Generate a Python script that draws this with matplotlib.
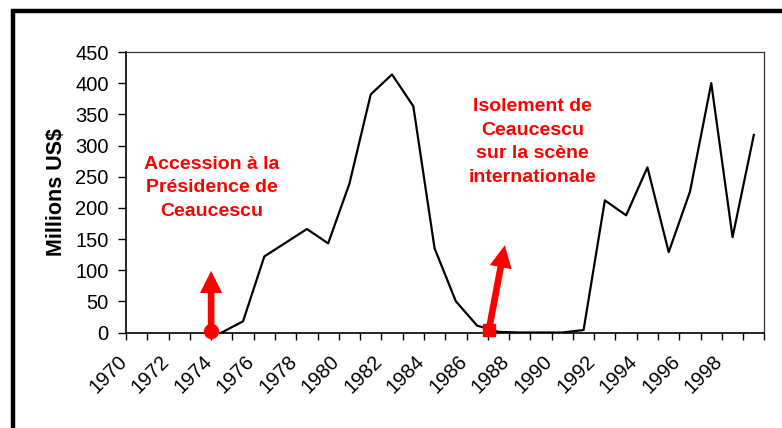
import numpy as np
import matplotlib.pyplot as plt
from matplotlib.patches import Rectangle
from matplotlib.transforms import ScaledTranslation

plt.rcParams['font.family'] = ['Liberation Sans', 'DejaVu Sans']

# Années et valeurs (millions US$)
annees = list(range(1970, 2000))
valeurs = [np.nan, np.nan, np.nan, np.nan, 0, 18, 122, 144, 166, 143,
           239, 382, 414, 363, 135, 50, 11, 1, 0, 0,
           0, 4, 212, 188, 265, 129, 226, 400, 153, 317]
etiquettes = [str(a) if (a - 1970) % 2 == 0 else '' for a in annees]

# Flèches d'annotation (position sur l'axe des catégories, valeur)
fleche1_debut = (4.0, 2)
fleche1_fin = (4.0, 99)
fleche2_debut = (17.05, 4)
fleche2_fin = (17.8, 140)
texte1 = "Accession à la\nPrésidence de\nCeaucescu"
texte2 = "Isolement de\nCeaucescu\nsur la scène\ninternationale"

fig = plt.figure(figsize=(7.82, 4.28), dpi=100)
ax = fig.add_axes([0.1611, 0.2231, 0.8165, 0.6554])

# cadre extérieur (coupé à droite et en bas)
fig.patches.append(Rectangle((12.5 / 782, -0.2), 1.2, 1 - 10.5 / 428 + 0.2,
                             transform=fig.transFigure, fill=False,
                             edgecolor='black', linewidth=3.2))

x = np.arange(len(annees)) + 0.5
ax.plot(x, valeurs, color='black', linewidth=1.6, zorder=3)

ax.set_xlim(0, len(annees))
ax.set_ylim(0, 450)
ax.set_yticks(range(0, 451, 50))
ax.set_xticks(np.arange(len(annees) + 1))
ax.set_xticklabels(etiquettes + [''], rotation=45, ha='right', va='top',
                   rotation_mode='anchor')
ax.tick_params(axis='x', direction='out', length=5, width=1, labelsize=14.5, pad=9)
ax.tick_params(axis='y', direction='out', length=5.5, width=1, labelsize=14.5, pad=7)
decalage = ScaledTranslation(-0.09, 0, fig.dpi_scale_trans)
for lab in ax.get_xticklabels():
    lab.set_transform(lab.get_transform() + decalage)
for s in ['top', 'right']:
    ax.spines[s].set_color('#333333')
    ax.spines[s].set_linewidth(0.9)
for s in ['left', 'bottom']:
    ax.spines[s].set_linewidth(1.2)

ax.set_ylabel('Millions US$', fontsize=15.5, fontweight='bold', labelpad=6)

# flèches rouges
style = 'simple,head_length=1.0,head_width=1.0,tail_width=0.3'
for debut, fin, marque in [(fleche1_debut, fleche1_fin, 'o'),
                           (fleche2_debut, fleche2_fin, 's')]:
    ax.annotate('', xy=fin, xytext=debut,
                arrowprops=dict(arrowstyle=style, color='red', lw=0,
                                mutation_scale=16, shrinkA=0, shrinkB=0),
                zorder=4)
    ax.plot(*debut, marque, color='red', markersize=10 if marque == 'o' else 9,
            zorder=5, clip_on=False)

ax.text(4.05, 232, texte1, color='red', fontsize=14, fontweight='bold',
        ha='center', va='center', linespacing=1.5)
ax.text(19.1, 306, texte2, color='red', fontsize=14, fontweight='bold',
        ha='center', va='center', linespacing=1.5)

fig.savefig('out.png', dpi=100)
